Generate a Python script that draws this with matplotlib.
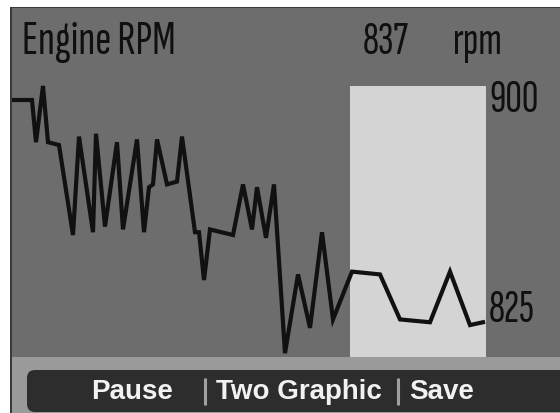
import matplotlib
matplotlib.use("Agg")
import matplotlib.pyplot as plt
from matplotlib import font_manager
from matplotlib.patches import Rectangle, FancyBboxPatch

# ---- data ----
title = "Engine RPM"
current_value = "837"
unit = "rpm"
time = [12, 32, 36, 43, 48, 59, 73, 79, 93, 96, 105, 117, 123, 137, 144, 149, 153,
        157, 167, 177, 182, 195, 199, 204, 210, 233, 243, 252, 257, 266, 274, 285,
        298, 310, 322, 333, 352, 380, 400, 430, 450, 470, 483]
rpm = [900, 900, 885, 905, 885, 884, 852, 887, 853, 888, 855, 885, 854, 886, 853, 869, 870,
       886, 870, 871, 887, 853, 853, 836, 854, 852, 870, 854, 869, 851, 870, 810,
       838, 819, 853, 822, 839, 838, 822, 821, 839, 820, 821]
ytick_values = [900, 825]
highlight = (350, 486, 905)   # start, end, top
buttons = ["Pause", "Two Graphic", "Save"]

# ---- fonts ----
names = {f.name for f in font_manager.fontManager.ttflist}
narrow = "DejaVu Sans"
for cand in ["Sofia Sans Extra Condensed", "Pathway Gothic One", "Saira ExtraCondensed"]:
    if cand in names:
        narrow = cand
        break
bold_font = "Liberation Sans" if "Liberation Sans" in names else "DejaVu Sans"

W, H = 560, 413
fig = plt.figure(figsize=(W / 100, H / 100), dpi=100, facecolor="white")

# background / frame axes in pixel coordinates
bg = fig.add_axes([0, 0, 1, 1])
bg.set_xlim(0, W)
bg.set_ylim(H, 0)
bg.axis("off")
bg.add_patch(Rectangle((10, 7), W - 10, H - 7, color="#3a3a3a", lw=0))
bg.add_patch(Rectangle((12, 8), W - 12, 349, color="#6d6d6d", lw=0))
bg.add_patch(Rectangle((12, 357), W - 12, H - 357, color="#9a9a9a", lw=0))
bg.add_patch(FancyBboxPatch((27, 370), W - 20, 42,
                            boxstyle="round,pad=0,rounding_size=8",
                            color="#2d2d2d", lw=0))

tc = "#101010"
bg.text(22, 54, title, fontsize=35, family=narrow, color=tc, va="baseline")
bg.text(363, 54, current_value, fontsize=33, family=narrow, color=tc, va="baseline")
bg.text(452, 54, unit, fontsize=33, family=narrow, color=tc, va="baseline")

# bottom buttons
bg.text(132, 392, buttons[0], fontsize=20, family=bold_font, weight="bold",
        color="#f2f2f2", ha="center", va="center")
bg.text(299, 392, buttons[1], fontsize=20, family=bold_font, weight="bold",
        color="#f2f2f2", ha="center", va="center")
bg.text(442, 392, buttons[2], fontsize=20, family=bold_font, weight="bold",
        color="#f2f2f2", ha="center", va="center")
for xs in (205, 398):
    bg.plot([xs, xs], [378, 405], color="#a0a0a0", lw=2.2, solid_capstyle="butt")

# data axes
x0, x1 = 12, W
ytop, ybot = 8, 357
ax = fig.add_axes([x0 / W, (H - ybot) / H, (x1 - x0) / W, (ybot - ytop) / H])
ax.set_facecolor("none")
ax.axis("off")
px_per_rpm = 211 / 75
ax.set_xlim(x0, x1)
ax.set_ylim(825 - (ybot - 311) / px_per_rpm, 900 + (100 - ytop) / px_per_rpm)
ymin = ax.get_ylim()[0]
ax.add_patch(Rectangle((highlight[0], ymin), highlight[1] - highlight[0],
                       highlight[2] - ymin, color="#d4d4d4", lw=0))
ax.plot(time, rpm, color="#111111", lw=3.0, solid_joinstyle="miter")
for v in ytick_values:
    ax.text(489, v, str(v), fontsize=33, family=narrow, color=tc,
            va="center", ha="left")

fig.savefig("out.png", dpi=100, facecolor="white")
